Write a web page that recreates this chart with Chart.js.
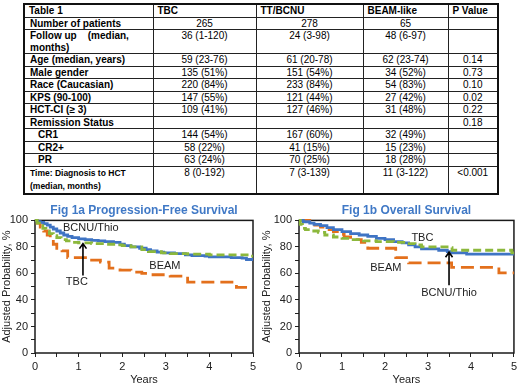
<!DOCTYPE html>
<html>
<head>
<meta charset="utf-8">
<script src="https://cdn.jsdelivr.net/npm/chart.js@4.4.1/dist/chart.umd.min.js"></script>
<style>
    html, body { margin: 0; padding: 0; background: #fff; width: 520px; height: 383px; overflow: hidden; }
    body { position: relative; font-family: Arial, "Liberation Sans", sans-serif; }
    #table1 { position: absolute; left: 23px; top: 3px; width: 474px; border-collapse: collapse; table-layout: fixed; border: 2px solid #111; font-size: 10px; color: #000; }
    #table1 td { border: 1px solid #222; padding: 0 4px; line-height: 11.5px; white-space: nowrap; overflow: hidden; text-align: center; vertical-align: top; }
    #table1 tr { height: 12.2px; }
    #table1 td.lbl { text-align: left; font-weight: bold; padding-left: 5px; }
    #table1 td.sub { padding-left: 13px; }
    #table1 td.small { font-size: 8.5px; line-height: 13px; }
    #table1 tr.head td { text-align: left; font-weight: bold; }
    canvas { position: absolute; top: 195px; }
</style>
</head>
<body>
<table id="table1">
    <colgroup><col style="width:129px"><col style="width:103px"><col style="width:107px"><col style="width:85px"><col style="width:50px"></colgroup>
    <tbody id="tableBody"></tbody>
</table>
<canvas id="pfsChart" width="260" height="188" style="left:0"></canvas>
<canvas id="osChart" width="260" height="188" style="left:260px"></canvas>
<script>
// ---- Table 1 ----
const tableHeaders = ['Table 1', 'TBC', 'TT/BCNU', 'BEAM-like', 'P Value'];
const rowLabels = ['Number of patients', 'Follow up\u00a0\u00a0\u00a0 (median,\nmonths)', 'Age (median, years)', 'Male gender', 'Race (Caucasian)', 'KPS (90-100)', 'HCT-CI (\u2265 3)', 'Remission Status', 'CR1', 'CR2+', 'PR', 'Time: Diagnosis to HCT\n(median, months)'];
const tbcCol = ['265', '36 (1-120)', '59 (23-76)', '135 (51%)', '220 (84%)', '147 (55%)', '109 (41%)', '', '144 (54%)', '58 (22%)', '63 (24%)', '8 (0-192)'];
const ttBcnuCol = ['278', '24 (3-98)', '61 (20-78)', '151 (54%)', '233 (84%)', '121 (44%)', '127 (46%)', '', '167 (60%)', '41 (15%)', '70 (25%)', '7 (3-139)'];
const beamCol = ['65', '48 (6-97)', '62 (23-74)', '34 (52%)', '54 (83%)', '27 (42%)', '31 (48%)', '', '32 (49%)', '15 (23%)', '18 (28%)', '11 (3-122)'];
const pValues = ['', '', '0.14', '0.73', '0.10', '0.02', '0.22', '0.18', '', '', '', '<0.001'];
const subRows = ['CR1', 'CR2+', 'PR'];

// ---- Fig 1a: progression-free survival (years, %) ----
const pfsBcnuTimes = [0, 0.05, 0.12, 0.2, 0.28, 0.35, 0.42, 0.5, 0.58, 0.66, 0.75, 0.85, 1.0, 1.15, 1.3, 1.45, 1.6, 1.8, 1.95, 2.05, 2.2, 2.4, 2.55, 2.65, 2.8, 2.95, 3.2, 3.45, 3.6, 3.9, 4.0, 4.5, 4.75, 4.85, 5.0];
const pfsBcnuSurv = [100, 99, 98.5, 97.5, 96.5, 95, 93.5, 92, 90.5, 89, 88, 87, 86, 85.5, 85, 84.5, 84, 83.5, 82, 81, 80, 79, 78, 77, 76, 75.5, 75, 74, 73.5, 73, 72.5, 72, 71.5, 70.5, 70.5];
const pfsTbcTimes = [0, 0.05, 0.1, 0.18, 0.25, 0.33, 0.42, 0.5, 0.6, 0.72, 0.85, 1.0, 1.3, 1.6, 1.85, 2.0, 2.2, 2.45, 2.6, 2.9, 3.1, 3.5, 4.0, 4.9, 5.0];
const pfsTbcSurv = [100, 98, 96, 94, 92, 90, 88.5, 87, 85.5, 84.5, 83.5, 83, 82.5, 82, 81.5, 81, 80, 78, 76.5, 75.5, 75, 74.5, 74, 73, 73];
const pfsBeamTimes = [0, 0.05, 0.12, 0.2, 0.28, 0.35, 0.42, 0.5, 0.62, 0.75, 1.2, 1.5, 1.7, 1.95, 2.2, 2.45, 2.65, 3.1, 3.5, 4.62, 5.0];
const pfsBeamSurv = [100, 98, 95, 92, 89, 86, 82, 79, 77, 72, 70, 68.5, 64, 62.5, 61, 60, 59, 58, 53.5, 49.5, 49.5];

// ---- Fig 1b: overall survival (years, %) ----
const osBcnuTimes = [0, 0.1, 0.25, 0.35, 0.5, 0.65, 0.8, 1.0, 1.2, 1.4, 1.6, 1.8, 2.0, 2.2, 2.4, 2.55, 2.7, 2.85, 3.25, 3.45, 3.55, 3.9, 5.0];
const osBcnuSurv = [100, 99, 98, 97, 96, 94.5, 93, 91.5, 90, 89, 88, 86.5, 85.5, 84, 83, 81.5, 80, 78.5, 77.5, 76.5, 75.5, 74.5, 74.5];
const osTbcTimes = [0, 0.03, 0.08, 0.15, 0.3, 0.45, 0.6, 0.8, 1.0, 1.2, 1.5, 1.8, 2.2, 2.5, 2.7, 2.85, 3.5, 3.56, 4.95, 5.0];
const osTbcSurv = [100, 97, 94, 93, 92, 91, 89, 87.5, 86.5, 85.5, 84.5, 84, 83.5, 82.5, 81.5, 80, 79.5, 77.5, 75.5, 75.5];
const osBeamTimes = [0, 0.25, 0.33, 0.5, 0.65, 0.8, 0.95, 1.05, 1.2, 1.45, 1.6, 2.25, 2.55, 3.55, 4.65, 5.0];
const osBeamSurv = [100, 98, 96.5, 95, 93, 91.5, 89.5, 87.5, 85.5, 83.5, 79, 72, 68, 64.5, 60.5, 60.5];

const FONT = 'Arial, "Liberation Sans", sans-serif';
const BLUE = '#3f74c4';
const GREEN = '#8cb83c';
const ORANGE = '#e3701c';

function buildTable() {
    const body = document.getElementById('tableBody');
    let html = '<tr class="head">' + tableHeaders.map(h => `<td>${h}</td>`).join('') + '</tr>';
    rowLabels.forEach((label, i) => {
        let cls = 'lbl';
        if (subRows.includes(label)) cls += ' sub';
        if (label.startsWith('Time')) cls += ' small';
        const labelHtml = label.replace('\n', '<br>');
        const cells = [tbcCol[i], ttBcnuCol[i], beamCol[i], pValues[i]].map(v => `<td>${v.replace('<', '&lt;')}</td>`).join('');
        html += `<tr><td class="${cls}">${labelHtml}</td>${cells}</tr>`;
    });
    body.innerHTML = html;
}
buildTable();

function toPoints(times, surv) {
    return times.map((t, i) => ({ x: t, y: surv[i] }));
}

// box around the plot area
const framePlugin = {
    id: 'frame',
    beforeDatasetsDraw(chart) {
        const a = chart.chartArea;
        const ctx = chart.ctx;
        ctx.save();
        ctx.strokeStyle = '#1a1a1a';
        ctx.lineWidth = 1.5;
        ctx.strokeRect(a.left, a.top, a.right - a.left, a.bottom - a.top);
        ctx.restore();
    }
};

// curve labels and arrow, placed in data units
const notesPlugin = {
    id: 'notes',
    afterDatasetsDraw(chart, args, opts) {
        const { ctx, scales: { x, y } } = chart;
        ctx.save();
        ctx.font = '11px ' + FONT;
        ctx.fillStyle = '#222';
        ctx.textAlign = 'center';
        ctx.textBaseline = 'middle';
        opts.labels.forEach(l => ctx.fillText(l.text, x.getPixelForValue(l.x), y.getPixelForValue(l.y)));
        const a = opts.arrow;
        const ax = x.getPixelForValue(a.x);
        const y0 = y.getPixelForValue(a.from);
        const y1 = y.getPixelForValue(a.to);
        ctx.strokeStyle = '#000';
        ctx.lineWidth = 1.6;
        ctx.beginPath();
        ctx.moveTo(ax, y0);
        ctx.lineTo(ax, y1);
        ctx.moveTo(ax - 3.5, y1 + 5);
        ctx.lineTo(ax, y1);
        ctx.lineTo(ax + 3.5, y1 + 5);
        ctx.stroke();
        ctx.restore();
    }
};

function makeChart(canvasId, titleText, series, notes, yWidth, padRight) {
    const ctx = document.getElementById(canvasId).getContext('2d');
    return new Chart(ctx, {
        type: 'line',
        data: {
            datasets: series.map(s => ({
                label: s.label,
                data: s.data,
                borderColor: s.color,
                borderWidth: 2.8,
                borderDash: s.dash,
                stepped: true,
                pointRadius: 0,
                fill: false,
                clip: 4
            }))
        },
        options: {
            responsive: false,
            animation: false,
            devicePixelRatio: 1,
            layout: { padding: { left: 0, right: padRight, top: 0, bottom: 0 } },
            plugins: {
                legend: { display: false },
                tooltip: { enabled: false },
                title: {
                    display: true,
                    text: titleText,
                    color: '#4079c6',
                    fullSize: false,
                    font: { family: FONT, size: 12, weight: 'bold' },
                    padding: { top: 8, bottom: 3 }
                },
                notes: notes
            },
            scales: {
                x: {
                    type: 'linear',
                    min: 0,
                    max: 5,
                    border: { display: false },
                    grid: { drawOnChartArea: false, drawTicks: true, tickLength: 4, color: '#222' },
                    ticks: {
                        stepSize: 0.5,
                        autoSkip: false,
                        maxRotation: 0,
                        padding: 3,
                        color: '#222',
                        font: { family: FONT, size: 11 },
                        callback: v => Number.isInteger(v) ? v : ''
                    },
                    title: {
                        display: true,
                        text: 'Years',
                        color: '#222',
                        font: { family: FONT, size: 11, lineHeight: 1 },
                        padding: { top: 0, bottom: -2 }
                    },
                    afterFit: scale => { scale.height = 30; }
                },
                y: {
                    min: 0,
                    max: 100,
                    border: { display: false },
                    grid: { drawOnChartArea: false, drawTicks: true, tickLength: 4, color: '#222' },
                    ticks: {
                        stepSize: 10,
                        autoSkip: false,
                        padding: 3,
                        color: '#222',
                        font: { family: FONT, size: 11 },
                        callback: v => v % 20 === 0 ? v : ''
                    },
                    title: {
                        display: true,
                        text: 'Adjusted Probability, %',
                        color: '#222',
                        font: { family: FONT, size: 11 },
                        padding: 0
                    },
                    afterFit: scale => { scale.width = yWidth; }
                }
            }
        },
        plugins: [framePlugin, notesPlugin]
    });
}

makeChart('pfsChart', 'Fig 1a Progression-Free Survival', [
    { label: 'TBC', data: toPoints(pfsTbcTimes, pfsTbcSurv), color: GREEN, dash: [8, 4] },
    { label: 'BCNU/Thio', data: toPoints(pfsBcnuTimes, pfsBcnuSurv), color: BLUE, dash: [] },
    { label: 'BEAM', data: toPoints(pfsBeamTimes, pfsBeamSurv), color: ORANGE, dash: [13, 6] }
], {
    labels: [
        { text: 'BCNU/Thio', x: 1.28, y: 94 },
        { text: 'TBC', x: 0.96, y: 53.5 },
        { text: 'BEAM', x: 2.98, y: 65.5 }
    ],
    arrow: { x: 1.1, from: 58.5, to: 82.5 }
}, 35, 7);

makeChart('osChart', 'Fig 1b Overall Survival', [
    { label: 'TBC', data: toPoints(osTbcTimes, osTbcSurv), color: GREEN, dash: [8, 4] },
    { label: 'BCNU/Thio', data: toPoints(osBcnuTimes, osBcnuSurv), color: BLUE, dash: [] },
    { label: 'BEAM', data: toPoints(osBeamTimes, osBeamSurv), color: ORANGE, dash: [13, 6] }
], {
    labels: [
        { text: 'TBC', x: 2.87, y: 86.5 },
        { text: 'BEAM', x: 2.02, y: 64.5 },
        { text: 'BCNU/Thio', x: 3.49, y: 45 }
    ],
    arrow: { x: 3.49, from: 51, to: 76 }
}, 39, 3);
</script>
</body>
</html>
